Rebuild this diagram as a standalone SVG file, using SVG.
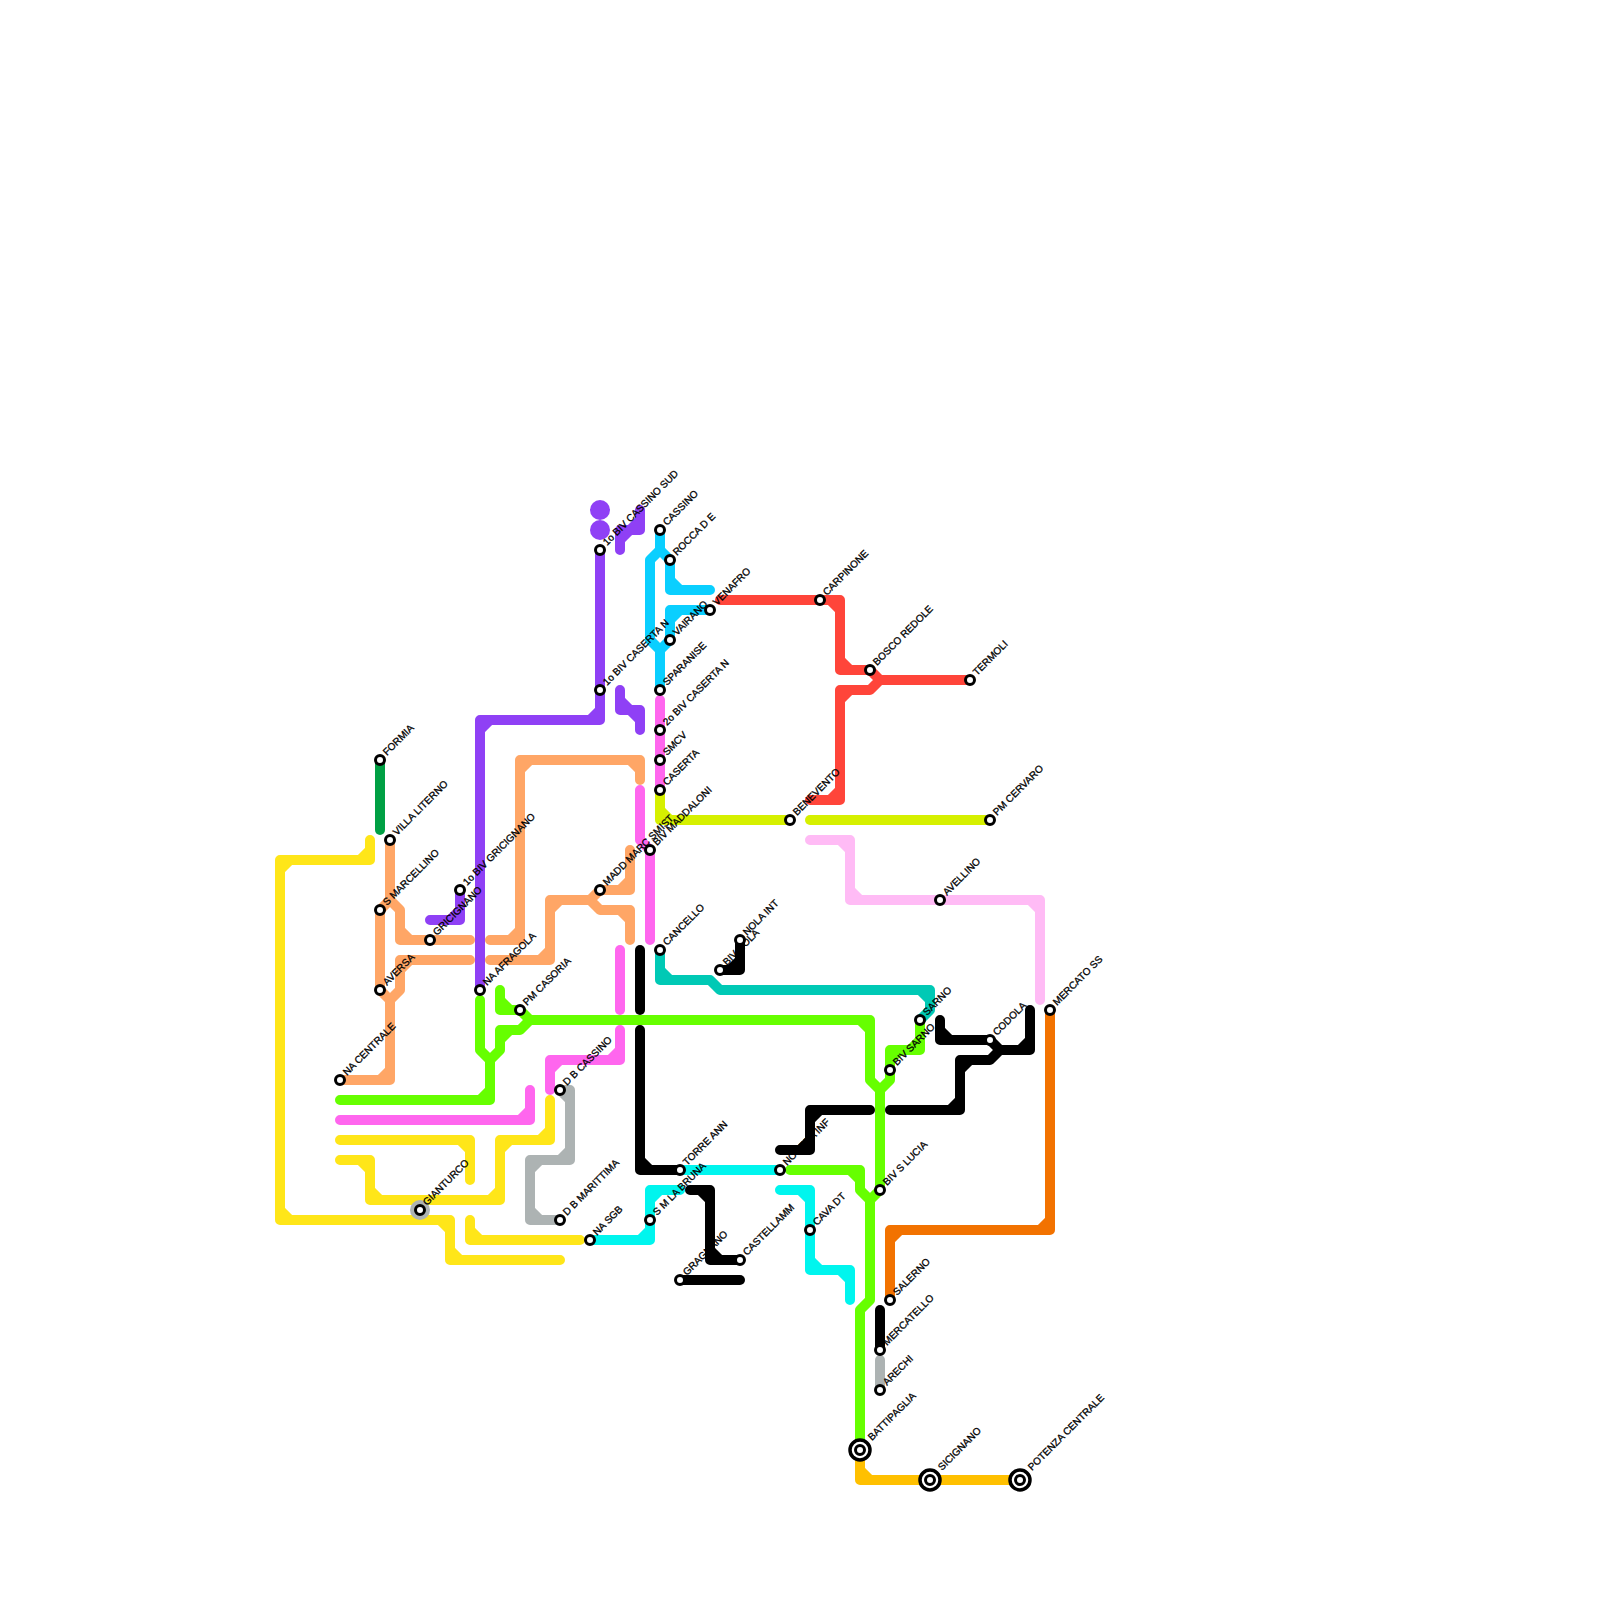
<svg xmlns="http://www.w3.org/2000/svg" width="1600" height="1600" viewBox="0 0 1600 1600">
<style>
.l{fill:none;stroke-width:10;stroke-linecap:round;stroke-linejoin:round}
.y{stroke:#ffe619}.g{stroke:#66ff00}.m{stroke:#ff66ee}.p{stroke:#8f40f5}.s{stroke:#ffa666}.b{stroke:#0acfff}.r{stroke:#ff453a}.i{stroke:#d6f000}.k{stroke:#ffbbf5}.t{stroke:#00c9b5}.n{stroke:#000}.a{stroke:#adb3b3}.q{stroke:#00f5ee}.d{stroke:#00a044}.o{stroke:#f27200}.u{stroke:#ffc000}
.st{fill:#fff;stroke:#000;stroke-width:3}
.big{fill:#fff;stroke:#000;stroke-width:3.5}
.lb{font-family:"Liberation Sans",Arial,sans-serif;font-size:10px;fill:#000;stroke:#000;stroke-width:.3;text-rendering:geometricPrecision}
</style>
<g id="connectors">
<path class="l d" d="M380 760V830"/>
<path class="l y" d="M370 840V860H280V1220H450V1260H560M370 850L360 860M290 860L280 870M280 1210L290 1220M440 1220L450 1230M450 1250L460 1260"/>
<path class="l y" d="M340 1140H470V1180M460 1140L470 1150"/>
<path class="l y" d="M340 1160H370V1200H500V1140H550V1100M360 1160L370 1170M370 1190L380 1200M490 1200L500 1190M500 1150L510 1140M540 1140L550 1130"/>
<path class="l y" d="M470 1220V1240H580M470 1230L480 1240"/>
<path class="l g" d="M480 1000V1050L490 1060V1100H340M490 1090L480 1100"/>
<path class="l g" d="M490 1060L500 1050V1030H520L530 1020H870V1080L880 1090V1190L870 1200V1300L860 1310V1450M500 1040L510 1030M860 1020L870 1030"/>
<path class="l g" d="M500 990V1010H520L530 1020M500 1000L510 1010"/>
<path class="l g" d="M880 1090L890 1080V1050H920V1020M890 1060L900 1050M910 1050L920 1040"/>
<path class="l g" d="M790 1170H860V1190L870 1200M850 1170L860 1180"/>
<path class="l m" d="M340 1120H530V1090M520 1120L530 1110"/>
<path class="l m" d="M550 1090V1060H620V1030M550 1070L560 1060M610 1060L620 1050"/>
<path class="l m" d="M620 950V1010"/>
<path class="l m" d="M640 790V840L650 850V940"/>
<path class="l m" d="M660 700V790"/>
<path class="l p" d="M600 550V720H480V990M600 710L590 720M490 720L480 730"/>
<path class="l p" d="M460 890V920H430M460 910L450 920"/>
<path class="l p" d="M620 690V710H640V730M620 700L630 710M630 710L640 720"/>
<path class="l p" d="M620 550V530H640V510M620 540L630 530M630 530L640 520"/>
<circle cx="600" cy="510" r="10" fill="#8f40f5"/>
<circle cx="600" cy="530" r="10" fill="#8f40f5"/>
<path class="l s" d="M380 990V910L390 900V840M390 900L400 910V940H470M400 930L410 940"/>
<path class="l s" d="M470 960H400V990L390 1000V1080H340M410 960L400 970M380 990L390 1000M390 1070L380 1080"/>
<path class="l s" d="M490 940H520V760H640V780M510 940L520 930M520 770L530 760M630 760L640 770"/>
<path class="l s" d="M490 960H550V900H590L600 890H630V850M540 960L550 950M550 910L560 900M620 890L630 880M590 900L600 910H630V940M620 910L630 920"/>
<path class="l b" d="M660 530V550L650 560V640L660 650V690M660 550L670 560V590H710M670 580L680 590M710 610H670V640L660 650M680 610L670 620"/>
<path class="l r" d="M720 600H840V670H870L880 680H970M830 600L840 610M840 660L850 670M880 680L870 690H840V800H810M840 700L850 690M840 790L830 800"/>
<path class="l i" d="M660 790V820H790M660 810L670 820"/>
<path class="l i" d="M810 820H990"/>
<path class="l k" d="M810 840H850V900H1040V1000M840 840L850 850M850 890L860 900M1030 900L1040 910"/>
<path class="l t" d="M660 950V980H710L720 990H930V1010L920 1020M660 970L670 980M920 990L930 1000"/>
<path class="l n" d="M640 950V1010"/>
<path class="l n" d="M640 1030V1170H680M640 1160L650 1170"/>
<path class="l n" d="M690 1190H710V1260H740M700 1190L710 1200M710 1250L720 1260"/>
<path class="l n" d="M680 1280H740"/>
<path class="l n" d="M780 1150H810V1110H870M800 1150L810 1140M810 1120L820 1110"/>
<path class="l n" d="M890 1110H960V1060H990L1000 1050H1030V1010M950 1110L960 1100M960 1070L970 1060M1020 1050L1030 1040"/>
<path class="l n" d="M940 1020V1040H990L1000 1050M940 1030L950 1040"/>
<path class="l n" d="M720 970H740V940M730 970L740 960"/>
<path class="l n" d="M880 1310V1350"/>
<path class="l a" d="M560 1090H570V1160H530V1220H560M560 1090L570 1100M570 1150L560 1160M540 1160L530 1170M530 1210L540 1220"/>
<path class="l a" d="M880 1360V1390"/>
<path class="l q" d="M680 1170H780"/>
<path class="l q" d="M590 1240H650V1190H680M640 1240L650 1230M650 1200L660 1190"/>
<path class="l q" d="M780 1190H810V1270H850V1300M800 1190L810 1200M810 1260L820 1270M840 1270L850 1280"/>
<path class="l o" d="M1050 1010V1230H890V1300M1050 1220L1040 1230M900 1230L890 1240"/>
<path class="l u" d="M860 1450V1480H1020M860 1470L870 1480"/>
</g>
<g id="n-formia"><circle class="st" cx="380" cy="760" r="4.5"/><text class="lb" transform="translate(387 756) rotate(-45)">FORMIA</text></g>
<g id="n-villa-literno"><circle class="st" cx="390" cy="840" r="4.5"/><text class="lb" transform="translate(397 836) rotate(-45)">VILLA LITERNO</text></g>
<g id="n-s-marcellino"><circle class="st" cx="380" cy="910" r="4.5"/><text class="lb" transform="translate(387 906) rotate(-45)">S MARCELLINO</text></g>
<g id="n-1o-biv-gricignano"><circle class="st" cx="460" cy="890" r="4.5"/><text class="lb" transform="translate(467 886) rotate(-45)">1o BIV GRICIGNANO</text></g>
<g id="n-gricignano"><circle class="st" cx="430" cy="940" r="4.5"/><text class="lb" transform="translate(437 936) rotate(-45)">GRICIGNANO</text></g>
<g id="n-aversa"><circle class="st" cx="380" cy="990" r="4.5"/><text class="lb" transform="translate(387 986) rotate(-45)">AVERSA</text></g>
<g id="n-na-afragola"><circle class="st" cx="480" cy="990" r="4.5"/><text class="lb" transform="translate(487 986) rotate(-45)">NA AFRAGOLA</text></g>
<g id="n-pm-casoria"><circle class="st" cx="520" cy="1010" r="4.5"/><text class="lb" transform="translate(527 1006) rotate(-45)">PM CASORIA</text></g>
<g id="n-na-centrale"><circle class="st" cx="340" cy="1080" r="4.5"/><text class="lb" transform="translate(347 1076) rotate(-45)">NA CENTRALE</text></g>
<g id="n-d-b-cassino"><circle class="st" cx="560" cy="1090" r="4.5"/><text class="lb" transform="translate(567 1086) rotate(-45)">D B CASSINO</text></g>
<g id="n-d-b-marittima"><circle class="st" cx="560" cy="1220" r="4.5"/><text class="lb" transform="translate(567 1216) rotate(-45)">D B MARITTIMA</text></g>
<g id="n-gianturco"><circle cx="420" cy="1210" r="10" fill="#adb3b3"/><circle class="st" cx="420" cy="1210" r="4.5"/><text class="lb" transform="translate(427 1206) rotate(-45)">GIANTURCO</text></g>
<g id="n-na-sgb"><circle class="st" cx="590" cy="1240" r="4.5"/><text class="lb" transform="translate(597 1236) rotate(-45)">NA SGB</text></g>
<g id="n-s-m-la-bruna"><circle class="st" cx="650" cy="1220" r="4.5"/><text class="lb" transform="translate(657 1216) rotate(-45)">S M LA BRUNA</text></g>
<g id="n-torre-ann"><circle class="st" cx="680" cy="1170" r="4.5"/><text class="lb" transform="translate(687 1166) rotate(-45)">TORRE ANN</text></g>
<g id="n-1o-biv-cassino-sud"><circle class="st" cx="600" cy="550" r="4.5"/><text class="lb" transform="translate(607 546) rotate(-45)">1o BIV CASSINO SUD</text></g>
<g id="n-1o-biv-caserta-n"><circle class="st" cx="600" cy="690" r="4.5"/><text class="lb" transform="translate(607 686) rotate(-45)">1o BIV CASERTA N</text></g>
<g id="n-cassino"><circle class="st" cx="660" cy="530" r="4.5"/><text class="lb" transform="translate(667 526) rotate(-45)">CASSINO</text></g>
<g id="n-rocca-d-e"><circle class="st" cx="670" cy="560" r="4.5"/><text class="lb" transform="translate(677 556) rotate(-45)">ROCCA D E</text></g>
<g id="n-venafro"><circle class="st" cx="710" cy="610" r="4.5"/><text class="lb" transform="translate(717 606) rotate(-45)">VENAFRO</text></g>
<g id="n-vairano"><circle class="st" cx="670" cy="640" r="4.5"/><text class="lb" transform="translate(677 636) rotate(-45)">VAIRANO</text></g>
<g id="n-sparanise"><circle class="st" cx="660" cy="690" r="4.5"/><text class="lb" transform="translate(667 686) rotate(-45)">SPARANISE</text></g>
<g id="n-2o-biv-caserta-n"><circle class="st" cx="660" cy="730" r="4.5"/><text class="lb" transform="translate(667 726) rotate(-45)">2o BIV CASERTA N</text></g>
<g id="n-smcv"><circle class="st" cx="660" cy="760" r="4.5"/><text class="lb" transform="translate(667 756) rotate(-45)">SMCV</text></g>
<g id="n-caserta"><circle class="st" cx="660" cy="790" r="4.5"/><text class="lb" transform="translate(667 786) rotate(-45)">CASERTA</text></g>
<g id="n-biv-maddaloni"><circle class="st" cx="650" cy="850" r="4.5"/><text class="lb" transform="translate(657 846) rotate(-45)">BIV MADDALONI</text></g>
<g id="n-madd-marc-smist"><circle class="st" cx="600" cy="890" r="4.5"/><text class="lb" transform="translate(607 886) rotate(-45)">MADD MARC SMIST</text></g>
<g id="n-cancello"><circle class="st" cx="660" cy="950" r="4.5"/><text class="lb" transform="translate(667 946) rotate(-45)">CANCELLO</text></g>
<g id="n-biv-nola"><circle class="st" cx="720" cy="970" r="4.5"/><text class="lb" transform="translate(727 966) rotate(-45)">BIV NOLA</text></g>
<g id="n-nola-int"><circle class="st" cx="740" cy="940" r="4.5"/><text class="lb" transform="translate(747 936) rotate(-45)">NOLA INT</text></g>
<g id="n-nocera-inf"><circle class="st" cx="780" cy="1170" r="4.5"/><text class="lb" transform="translate(787 1166) rotate(-45)">NOCERA INF</text></g>
<g id="n-benevento"><circle class="st" cx="790" cy="820" r="4.5"/><text class="lb" transform="translate(797 816) rotate(-45)">BENEVENTO</text></g>
<g id="n-carpinone"><circle class="st" cx="820" cy="600" r="4.5"/><text class="lb" transform="translate(827 596) rotate(-45)">CARPINONE</text></g>
<g id="n-bosco-redole"><circle class="st" cx="870" cy="670" r="4.5"/><text class="lb" transform="translate(877 666) rotate(-45)">BOSCO REDOLE</text></g>
<g id="n-termoli"><circle class="st" cx="970" cy="680" r="4.5"/><text class="lb" transform="translate(977 676) rotate(-45)">TERMOLI</text></g>
<g id="n-pm-cervaro"><circle class="st" cx="990" cy="820" r="4.5"/><text class="lb" transform="translate(997 816) rotate(-45)">PM CERVARO</text></g>
<g id="n-avellino"><circle class="st" cx="940" cy="900" r="4.5"/><text class="lb" transform="translate(947 896) rotate(-45)">AVELLINO</text></g>
<g id="n-sarno"><circle class="st" cx="920" cy="1020" r="4.5"/><text class="lb" transform="translate(927 1016) rotate(-45)">SARNO</text></g>
<g id="n-biv-sarno"><circle class="st" cx="890" cy="1070" r="4.5"/><text class="lb" transform="translate(897 1066) rotate(-45)">BIV SARNO</text></g>
<g id="n-codola"><circle class="st" cx="990" cy="1040" r="4.5"/><text class="lb" transform="translate(997 1036) rotate(-45)">CODOLA</text></g>
<g id="n-mercato-ss"><circle class="st" cx="1050" cy="1010" r="4.5"/><text class="lb" transform="translate(1057 1006) rotate(-45)">MERCATO SS</text></g>
<g id="n-biv-s-lucia"><circle class="st" cx="880" cy="1190" r="4.5"/><text class="lb" transform="translate(887 1186) rotate(-45)">BIV S LUCIA</text></g>
<g id="n-cava-dt"><circle class="st" cx="810" cy="1230" r="4.5"/><text class="lb" transform="translate(817 1226) rotate(-45)">CAVA DT</text></g>
<g id="n-castellamm"><circle class="st" cx="740" cy="1260" r="4.5"/><text class="lb" transform="translate(747 1256) rotate(-45)">CASTELLAMM</text></g>
<g id="n-gragnano"><circle class="st" cx="680" cy="1280" r="4.5"/><text class="lb" transform="translate(687 1276) rotate(-45)">GRAGNANO</text></g>
<g id="n-salerno"><circle class="st" cx="890" cy="1300" r="4.5"/><text class="lb" transform="translate(897 1296) rotate(-45)">SALERNO</text></g>
<g id="n-mercatello"><circle class="st" cx="880" cy="1350" r="4.5"/><text class="lb" transform="translate(887 1346) rotate(-45)">MERCATELLO</text></g>
<g id="n-arechi"><circle class="st" cx="880" cy="1390" r="4.5"/><text class="lb" transform="translate(887 1386) rotate(-45)">ARECHI</text></g>
<g id="n-battipaglia"><circle class="big" cx="860" cy="1450" r="10"/><circle class="st" cx="860" cy="1450" r="4.5"/><text class="lb" transform="translate(872 1441) rotate(-45)">BATTIPAGLIA</text></g>
<g id="n-sicignano"><circle class="big" cx="930" cy="1480" r="10"/><circle class="st" cx="930" cy="1480" r="4.5"/><text class="lb" transform="translate(942 1471) rotate(-45)">SICIGNANO</text></g>
<g id="n-potenza-centrale"><circle class="big" cx="1020" cy="1480" r="10"/><circle class="st" cx="1020" cy="1480" r="4.5"/><text class="lb" transform="translate(1032 1471) rotate(-45)">POTENZA CENTRALE</text></g>
</svg>
